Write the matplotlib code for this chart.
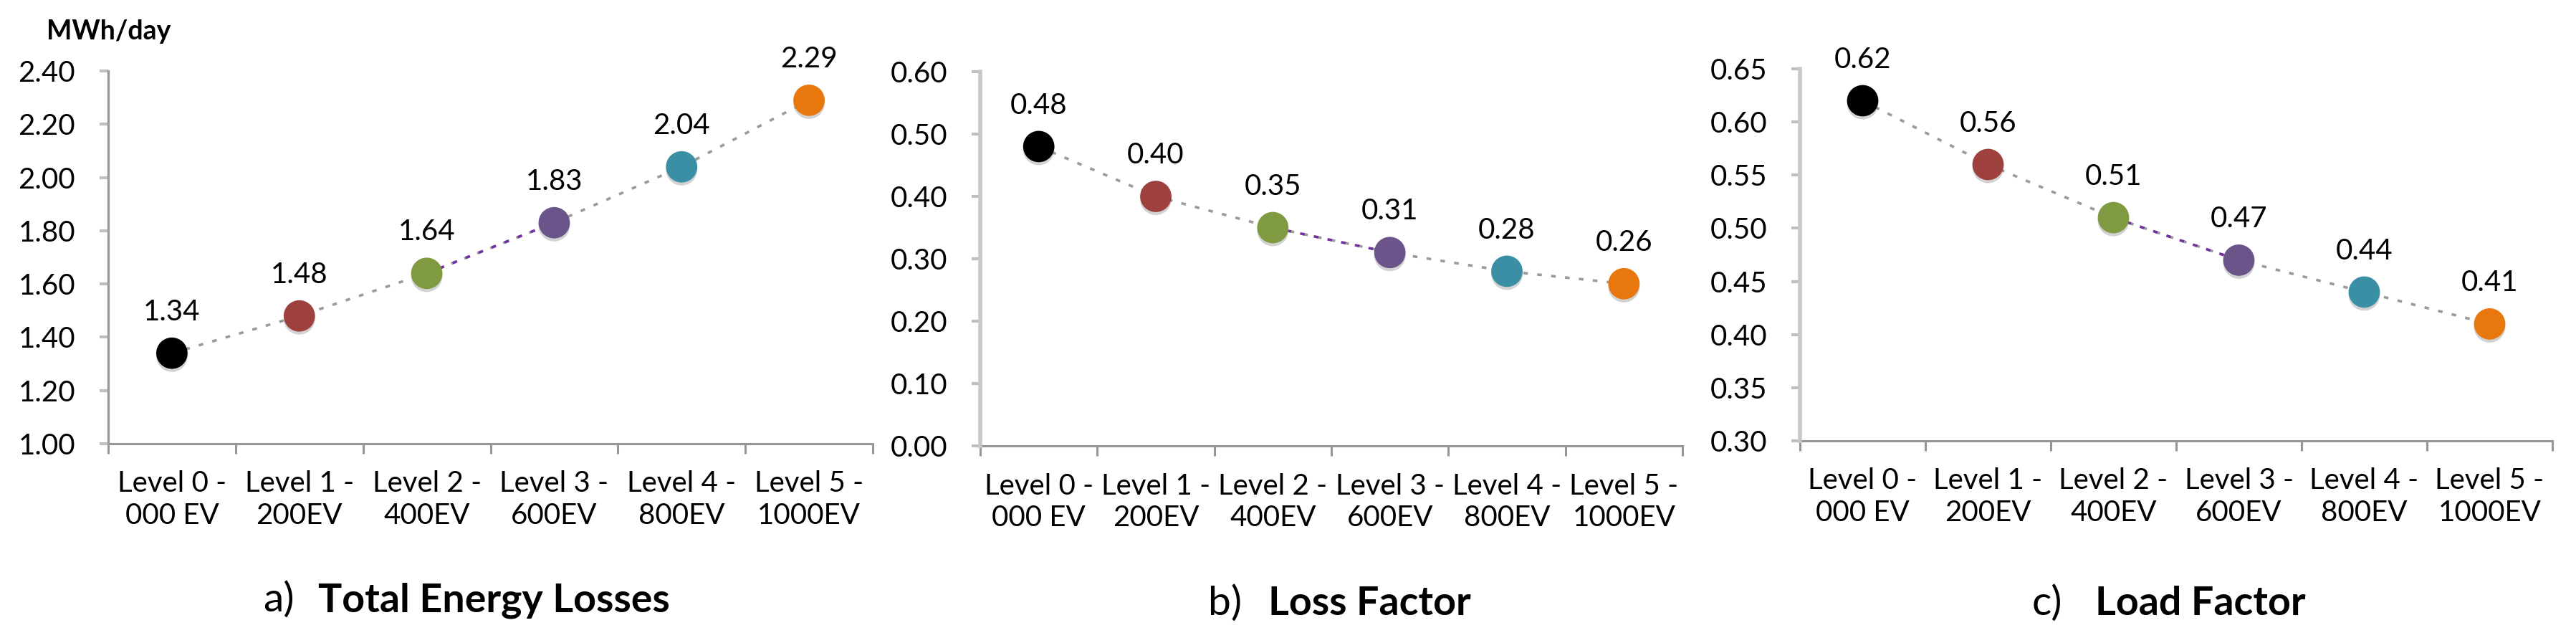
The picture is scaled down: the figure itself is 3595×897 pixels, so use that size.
import matplotlib
matplotlib.use("Agg")
import matplotlib.pyplot as plt
import matplotlib.patheffects as pe

plt.rcParams['font.family'] = ['Lato', 'DejaVu Sans']

categories = ["Level 0 -\n000 EV", "Level 1 -\n200EV", "Level 2 -\n400EV",
              "Level 3 -\n600EV", "Level 4 -\n800EV", "Level 5 -\n1000EV"]
energy_losses = [1.34, 1.48, 1.64, 1.83, 2.04, 2.29]
loss_factor = [0.48, 0.40, 0.35, 0.31, 0.28, 0.26]
load_factor = [0.62, 0.56, 0.51, 0.47, 0.44, 0.41]
point_colors = ['#000000', '#9E413E', '#7F9A41', '#6A5489', '#3A8FA5', '#E8770E']

y_ranges = [(1.0, 2.4, 0.2), (0.0, 0.6, 0.1), (0.30, 0.65, 0.05)]
panel_letters = ["a)", "b)", "c)"]
panel_titles = ["Total Energy Losses", "Loss Factor", "Load Factor"]

W, H = 3595, 897
fig = plt.figure(figsize=(W / 100, H / 100), dpi=100)

# axes boxes in pixels: left, top, right, bottom
boxes = [(151, 99, 1218, 619), (1368, 100, 2348, 622), (2512, 96, 3562, 615)]
left_spine = [('#9A9A9A', 2.4), ('#C8C8C8', 4.0), ('#C8C8C8', 4.0)]
title_pos = [(367, 853), (1686, 858), (2836, 858)]
title_gap = [77, 84, 88]

series = [energy_losses, loss_factor, load_factor]

for i in range(3):
    l, t, r, b = boxes[i]
    ax = fig.add_axes([l / W, 1 - b / H, (r - l) / W, (b - t) / H])
    vals = series[i]
    x = list(range(len(vals)))
    ymin, ymax, step = y_ranges[i]
    # dotted connecting line
    ax.plot(x, vals, color='#9A9A9A', lw=2.6, ls=(0, (1.8, 3.6)), zorder=2)
    ax.plot(x[2:4], vals[2:4], color='#7030A0', lw=2.6, ls=(0, (1.8, 3.6)), zorder=2.5)
    sc = ax.scatter(x, vals, s=31.5 ** 2, c=point_colors, zorder=3, linewidths=0,
                    clip_on=False)
    sc.set_path_effects([pe.SimplePatchShadow(offset=(0, -3), shadow_rgbFace='#808080',
                                              alpha=0.35), pe.Normal()])
    for xi, v in zip(x, vals):
        ax.annotate(f"{v:.2f}", (xi, v), xytext=(0, 33), textcoords='offset points',
                    ha='center', va='baseline', fontsize=29, color='#000000',
                    annotation_clip=False)
    ax.set_xlim(-0.5, len(vals) - 0.5)
    ax.set_ylim(ymin, ymax)
    nt = int(round((ymax - ymin) / step)) + 1
    yt = [ymin + k * step for k in range(nt)]
    ax.set_yticks(yt)
    ax.set_yticklabels([f"{v:.2f}" for v in yt])
    ax.set_xticks([k - 0.5 for k in range(len(vals) + 1)])
    ax.set_xticklabels([])
    ax.set_xticks(x, minor=True)
    ax.set_xticklabels(categories, minor=True, linespacing=1.25)
    ax.tick_params(axis='x', which='major', direction='out', length=10, width=2.2,
                   color='#969696')
    ax.tick_params(axis='x', which='minor', length=0, pad=27, labelsize=29)
    ax.tick_params(axis='y', which='major', direction='out', length=9, width=3,
                   color='#BFBFBF', pad=24, labelsize=29)
    for s in ['top', 'right']:
        ax.spines[s].set_visible(False)
    ax.spines['bottom'].set_color('#969696')
    ax.spines['bottom'].set_linewidth(2.2)
    ax.spines['left'].set_color(left_spine[i][0])
    ax.spines['left'].set_linewidth(left_spine[i][1])
    ax.spines['bottom'].set_zorder(1)

    tx, ty = title_pos[i]
    fig.text(tx / W, 1 - ty / H, panel_letters[i], fontsize=41, ha='left',
             va='baseline')
    fig.text((tx + title_gap[i]) / W, 1 - ty / H, panel_titles[i], fontsize=40,
             fontweight='bold', ha='left', va='baseline')

fig.text(65 / W, 1 - 55 / H, "MWh/day", fontsize=27, fontweight='bold', ha='left',
         va='baseline')

fig.savefig("out.png", dpi=100, facecolor='white')
